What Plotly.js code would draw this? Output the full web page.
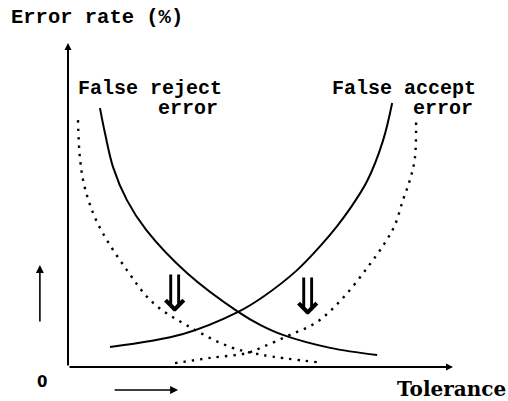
<!DOCTYPE html>
<html>
<head>
<meta charset="utf-8">
<script src="https://cdn.plot.ly/plotly-3.0.1.min.js"></script>
<style>html,body{margin:0;padding:0;background:#fff;}#chart{width:508px;height:401px;}</style>
</head>
<body>
<div id="chart"></div>
<script>
// Tolerance (x, 0-100) and error rate (y, 0-100)
var frSolidX = [8.3, 9.6, 11.7, 15.3, 20.3, 30.9, 44.2, 49.9, 55.8, 68.1, 80.3];
var frSolidY = [79.9, 72.2, 61.7, 51.5, 42.3, 29.0, 17.0, 13.0, 9.9, 5.9, 3.7];

var frDotX = [2.6, 3.1, 4.4, 7.8, 15.3, 22.1, 31.7, 42.1, 50.6, 64.7];
var frDotY = [76.2, 64.5, 55.2, 44.1, 29.9, 19.8, 12.3, 6.2, 3.7, 1.5];

var faSolidX = [10.9, 29.9, 44.2, 50.6, 59.5, 65.5, 69.9, 73.2, 77.7, 81.8, 84.2];
var faSolidY = [6.2, 10.2, 17.0, 21.6, 29.9, 37.3, 43.5, 48.8, 57.4, 69.8, 81.5];

var faDotX = [27.8, 36.9, 46.5, 50.6, 57.1, 64.7, 71.4, 77.7, 82.3, 84.9, 87.0, 88.8, 90.1, 90.4];
var faDotY = [1.2, 2.8, 4.3, 6.2, 9.6, 13.9, 21.3, 30.6, 38.3, 43.8, 51.5, 57.7, 64.5, 76.2];

// shift markers (hollow down arrows) between solid and dotted curves
var shiftX = [27.8, 62.3];
var shiftY = [22.5, 21.5];

var labelText = ["False reject", "error", "False accept", "error"];
var labelX = [2.4, 23.0, 68.2, 89.4];
var labelY = [86.1, 79.9, 86.1, 79.9];

var monoFont = {family: "Liberation Mono, DejaVu Sans Mono, monospace", size: 20, color: "#000"};

var traces = [
  {x: frSolidX, y: frSolidY, mode: "lines", line: {color: "#000", width: 2, shape: "spline"}},
  {x: faSolidX, y: faSolidY, mode: "lines", line: {color: "#000", width: 2, shape: "spline"}},
  {x: frDotX, y: frDotY, mode: "lines", line: {color: "#000", width: 2.4, shape: "spline", dash: "2.4px,6px"}},
  {x: faDotX, y: faDotY, mode: "lines", line: {color: "#000", width: 2.4, shape: "spline", dash: "2.4px,6px"}}
];

var annotations = [];
// axes drawn as arrows
annotations.push({x: 0, y: 100, ax: 0, ay: 0, xref: "x", yref: "y", axref: "x", ayref: "y",
  text: "", showarrow: true, arrowhead: 2, arrowsize: 0.7, arrowwidth: 2, arrowcolor: "#000", standoff: 0});
annotations.push({x: 100, y: 0, ax: 0, ay: 0, xref: "x", yref: "y", axref: "x", ayref: "y",
  text: "", showarrow: true, arrowhead: 2, arrowsize: 0.7, arrowwidth: 2, arrowcolor: "#000", standoff: 0});
// small direction arrows outside the axes
annotations.push({x: -0.073, y: 0.315, ax: 0, ay: 58, xref: "paper", yref: "paper",
  text: "", showarrow: true, arrowhead: 2, arrowsize: 1, arrowwidth: 1.6, arrowcolor: "#000", standoff: 0});
annotations.push({x: 0.286, y: -0.071, ax: -65, ay: 0, xref: "paper", yref: "paper",
  text: "", showarrow: true, arrowhead: 2, arrowsize: 1, arrowwidth: 1.6, arrowcolor: "#000", standoff: 0});
// hollow shift arrows
for (var i = 0; i < shiftX.length; i++) {
  annotations.push({x: shiftX[i], y: shiftY[i], xref: "x", yref: "y", text: "\u21D3", showarrow: false,
    font: {family: "DejaVu Sans", size: 50, color: "#000"}});
}
for (var j = 0; j < labelText.length; j++) {
  annotations.push({x: labelX[j], y: labelY[j], xref: "x", yref: "y", text: "<b>" + labelText[j] + "</b>",
    showarrow: false, xanchor: "left", yanchor: "middle", borderpad: 0, font: monoFont});
}
annotations.push({x: -0.153, y: 1.08, xref: "paper", yref: "paper", text: "<b>Error rate (%)</b>", showarrow: false,
  xanchor: "left", yanchor: "middle", font: {family: monoFont.family, size: 20.5, color: "#000"}});
annotations.push({x: -0.068, y: -0.046, xref: "paper", yref: "paper", text: "<b>0</b>", showarrow: false,
  xanchor: "center", yanchor: "middle", font: {family: "DejaVu Sans", size: 15, color: "#000"}});
annotations.push({x: 1.143, y: -0.068, xref: "paper", yref: "paper", text: "<b>Tolerance</b>", showarrow: false,
  xanchor: "right", yanchor: "middle", font: {family: "DejaVu Serif", size: 20, color: "#000"}});

var layout = {
  width: 508, height: 401,
  margin: {l: 68, r: 55, t: 43, b: 34, pad: 0},
  paper_bgcolor: "#fff", plot_bgcolor: "#fff",
  showlegend: false,
  xaxis: {range: [0, 100], visible: false, fixedrange: true},
  yaxis: {range: [0, 100], visible: false, fixedrange: true},
  annotations: annotations
};

Plotly.newPlot("chart", traces, layout, {staticPlot: true, displayModeBar: false});
</script>
</body>
</html>
